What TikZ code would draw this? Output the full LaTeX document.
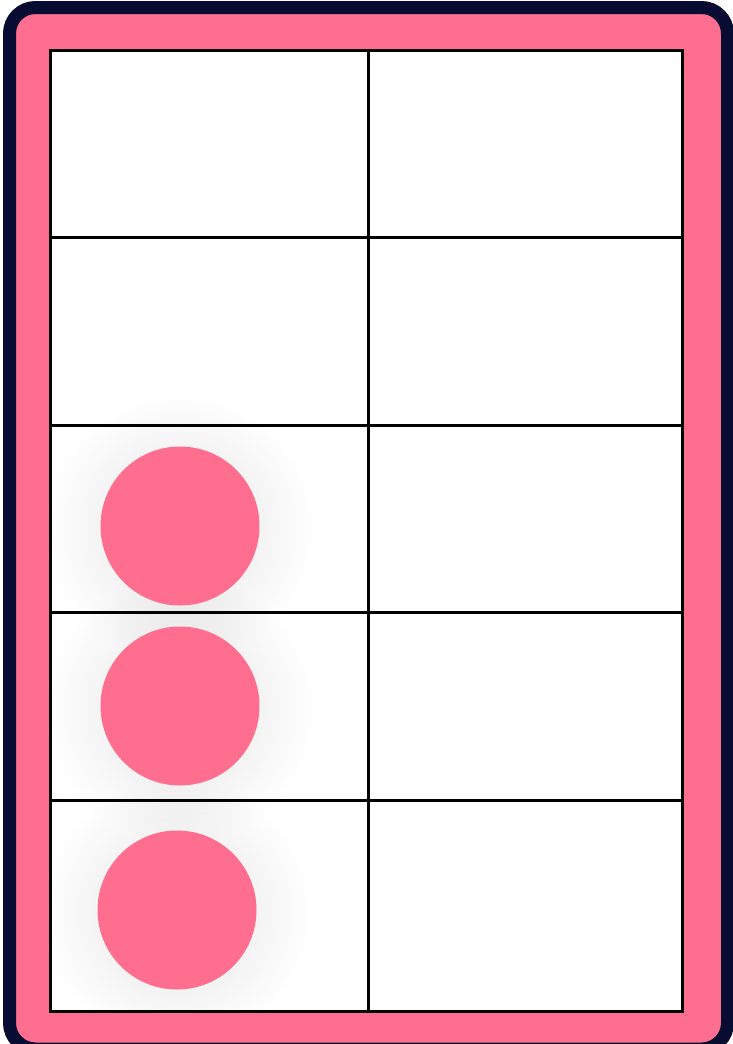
\documentclass[tikz,border=0pt]{standalone}
\usetikzlibrary{fadings}
\definecolor{pinkc}{HTML}{FF6D8F}
\definecolor{navyc}{HTML}{080C33}
\tikzfading[name=glowfade, inner color=transparent!0, outer color=transparent!100]
\tikzset{
  counter/.style={circle, fill=pinkc, draw=none, minimum size=159pt, inner sep=0pt},
  gridline/.style={black, line width=3pt},
  glow/.style={fill=black, fill opacity=0.11, path fading=glowfade}
}
\begin{document}
\begin{tikzpicture}[x=1pt,y=-1pt]
\useasboundingbox (0,0) rectangle (733,1044);
\begin{scope}
\clip (0,0) rectangle (733,1044);
\draw[navyc, fill=pinkc, line width=13pt, rounded corners=26pt] (9.5,7.5) rectangle (727.5,1049);
\end{scope}
\fill[white] (50,50) rectangle (682,1011);
% glows
\begin{scope}
\clip (50,50) rectangle (682,1011);
\fill[glow] (180,528) circle (135);
\fill[glow] (180,708) circle (135);
\fill[glow] (177,912) circle (135);
\end{scope}
\node[counter] (c1) at (180,526) {};
\node[counter] (c2) at (180,706) {};
\node[counter] (c3) at (177,910) {};
% grid
\draw[gridline] (50,50) rectangle (682,1011);
\draw[gridline] (368,50) -- (368,1011);
\foreach \yy in {237.5,425,612,800}
  \draw[gridline] (50,\yy) -- (682,\yy);
\end{tikzpicture}
\end{document}
